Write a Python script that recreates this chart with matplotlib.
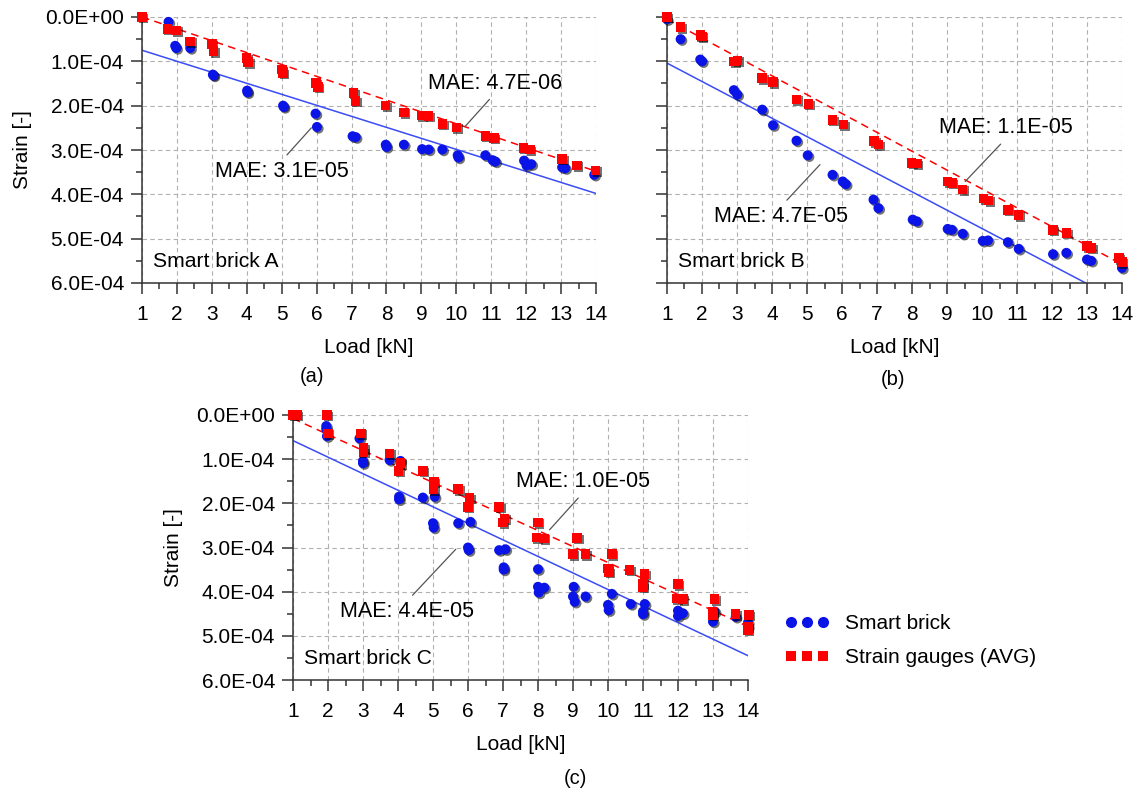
import matplotlib.pyplot as plt
import matplotlib.patheffects as pe
from matplotlib.lines import Line2D
from matplotlib.ticker import MultipleLocator, FuncFormatter

plt.rcParams['font.family'] = ['Liberation Sans', 'DejaVu Sans']

# strain values below are in units of 1e-4
SCALE = 1e-4

# --- Smart brick A ---
a_sb_x = [1.76, 1.95, 1.98, 2.38, 3.03, 3.05, 4.01, 4.02, 5.04, 5.06, 5.97, 6.01, 7.03, 7.12,
          7.98, 8.0, 8.5, 9.02, 9.21, 9.6, 10.04, 10.06, 10.83, 11.04, 11.12, 11.94, 12.01,
          12.15, 13.03, 13.12, 13.95]
a_sb_y = [0.11, 0.65, 0.70, 0.70, 1.30, 1.32, 1.66, 1.70, 2.00, 2.03, 2.18, 2.48, 2.69, 2.71,
          2.88, 2.93, 2.88, 2.98, 2.99, 2.99, 3.12, 3.17, 3.12, 3.23, 3.26, 3.24, 3.35,
          3.32, 3.39, 3.41, 3.56]
a_sg_x = [1.0, 1.73, 1.98, 2.38, 3.0, 3.05, 3.99, 4.04, 5.01, 5.04, 5.98, 6.04, 7.05, 7.11,
          7.98, 8.5, 9.0, 9.21, 9.6, 10.0, 10.83, 11.08, 11.92, 12.11, 13.03, 13.45, 13.99]
a_sg_y = [0.0, 0.27, 0.30, 0.55, 0.61, 0.77, 0.92, 1.02, 1.19, 1.26, 1.49, 1.58, 1.71, 1.89,
          2.0, 2.15, 2.22, 2.23, 2.41, 2.49, 2.68, 2.73, 2.95, 2.99, 3.20, 3.35, 3.46]
a_fit_x = [1, 14]
a_fit_sb = [0.75, 3.98]
a_fit_sg = [0.0, 3.48]

# --- Smart brick B ---
b_sb_x = [1.0, 1.39, 1.95, 2.0, 2.91, 3.01, 3.72, 4.03, 4.70, 5.02, 5.73, 6.02, 6.11, 6.90,
          7.04, 8.02, 8.14, 9.02, 9.14, 9.45, 10.02, 10.17, 10.74, 11.05, 12.03, 12.41,
          13.0, 13.12, 14.0]
b_sb_y = [0.05, 0.50, 0.96, 1.0, 1.65, 1.75, 2.09, 2.44, 2.79, 3.12, 3.56, 3.71, 3.77, 4.12,
          4.31, 4.57, 4.61, 4.78, 4.80, 4.89, 5.05, 5.04, 5.08, 5.23, 5.35, 5.32,
          5.47, 5.50, 5.66]
b_sg_x = [1.0, 1.39, 1.95, 2.0, 2.92, 3.01, 3.72, 4.03, 4.70, 5.04, 5.73, 6.04, 6.92, 7.04,
          7.99, 8.14, 9.02, 9.14, 9.45, 10.05, 10.19, 10.74, 11.05, 12.03, 12.41, 13.0,
          13.12, 13.91, 14.0]
b_sg_y = [0.0, 0.23, 0.41, 0.44, 1.0, 0.98, 1.38, 1.47, 1.86, 1.96, 2.32, 2.43, 2.80, 2.88,
          3.29, 3.31, 3.71, 3.74, 3.89, 4.10, 4.14, 4.35, 4.47, 4.80, 4.87, 5.17,
          5.21, 5.44, 5.53]
b_fit_x = [1, 14]
b_fit_sb = [1.04, 6.43]
b_fit_sg = [0.05, 5.58]

# --- Smart brick C ---
c_sb_x = [1.95, 1.95, 1.97, 2.9, 3.0, 3.0, 3.76, 4.07, 4.03, 4.03, 4.71, 5.05, 5.0, 5.02,
          5.72, 6.07, 6.0, 6.02, 6.89, 7.07, 7.02, 7.02, 8.0, 8.0, 8.02, 8.18, 9.02, 9.0,
          9.05, 9.36, 10.11, 10.0, 10.02, 10.65, 11.05, 11.0, 11.0, 12.0, 12.0, 12.14,
          13.05, 13.0, 13.65, 14.0, 14.0]
c_sb_y = [0.25, 0.32, 0.48, 0.53, 1.04, 1.09, 1.02, 1.04, 1.85, 1.91, 1.87, 1.85, 2.45, 2.55,
          2.45, 2.42, 3.0, 3.06, 3.06, 3.04, 3.45, 3.50, 3.49, 3.89, 4.02, 3.91, 3.89, 4.11,
          4.23, 4.11, 4.05, 4.30, 4.42, 4.28, 4.28, 4.45, 4.51, 4.43, 4.55, 4.49,
          4.45, 4.68, 4.57, 4.70, 4.79]
c_sg_x = [1.0, 1.11, 1.97, 2.0, 2.94, 3.01, 3.01, 3.76, 4.07, 4.02, 4.71, 5.03, 5.01, 5.72,
          6.05, 6.0, 6.89, 7.05, 7.0, 8.0, 7.95, 8.17, 9.12, 9.0, 9.35, 10.11, 10.0, 10.03,
          10.62, 11.05, 11.0, 11.0, 12.0, 11.95, 12.14, 13.05, 12.98, 13.0, 13.65, 14.03,
          14.0, 14.0]
c_sg_y = [0.0, 0.0, 0.0, 0.42, 0.42, 0.75, 0.84, 0.87, 1.09, 1.27, 1.27, 1.51, 1.68, 1.68,
          1.88, 2.08, 2.08, 2.34, 2.43, 2.43, 2.77, 2.79, 2.78, 3.15, 3.15, 3.15, 3.47, 3.55,
          3.51, 3.60, 3.81, 3.89, 3.83, 4.15, 4.17, 4.17, 4.46, 4.53, 4.51, 4.53,
          4.79, 4.87]
c_fit_x = [1, 14]
c_fit_sb = [0.58, 5.45]
c_fit_sg = [0.08, 4.79]

# MAE labels: (text, text_x, text_y, target_x, target_y)
a_mae = [("MAE: 4.7E-06", 11.1, 1.49, 10.25, 2.47), ("MAE: 3.1E-05", 5.0, 3.48, 5.85, 2.50)]
b_mae = [("MAE: 1.1E-05", 10.69, 2.50, 9.52, 3.71), ("MAE: 4.7E-05", 4.27, 4.50, 5.37, 3.33)]
c_mae = [("MAE: 1.0E-05", 9.30, 1.51, 8.33, 2.60), ("MAE: 4.4E-05", 4.26, 4.45, 5.65, 3.04)]

BLUE = '#0a14e6'
RED = '#ff0000'
LINE_BLUE = '#3a4cf5'

W, H = 1137, 792
fig = plt.figure(figsize=(W / 100, H / 100), dpi=100)


def px_axes(left, top, right, bottom):
    return fig.add_axes([left / W, 1 - bottom / H, (right - left) / W, (bottom - top) / H])


def draw_panel(ax, sb_x, sb_y, sg_x, sg_y, fit_x, fit_sb, fit_sg, mae, name, ylabels=True):
    s = lambda v: [i * SCALE for i in v]
    ax.plot(fit_x, s(fit_sb), color=LINE_BLUE, lw=1.1, zorder=2)
    ax.plot(fit_x, s(fit_sg), color=RED, lw=1.1, ls=(0, (5, 3.5)), zorder=2)
    shadow = [pe.SimplePatchShadow(offset=(1.2, -1.2), shadow_rgbFace='black', alpha=0.55), pe.Normal()]
    ax.plot(sb_x, s(sb_y), 'o', color=BLUE, ms=7.2, mew=0, clip_on=False, zorder=3,
            path_effects=shadow)
    ax.plot(sg_x, s(sg_y), 's', color=RED, ms=6.8, mew=0, clip_on=False, zorder=4,
            path_effects=shadow)

    ax.set_xlim(1, 14)
    ax.set_ylim(6 * SCALE, 0)
    ax.xaxis.set_major_locator(MultipleLocator(1))
    ax.xaxis.set_minor_locator(MultipleLocator(0.5))
    ax.yaxis.set_major_locator(MultipleLocator(SCALE))
    ax.yaxis.set_minor_locator(MultipleLocator(0.5 * SCALE))
    ax.yaxis.set_major_formatter(FuncFormatter(lambda v, p: f"{v:.1E}"))
    ax.grid(True, which='major', color='#b0b0b0', lw=0.8, ls=(0, (4, 3)))
    ax.set_axisbelow(True)
    for sp in ['top', 'right']:
        ax.spines[sp].set_visible(False)
    for sp in ['left', 'bottom']:
        ax.spines[sp].set_color('#333333')
        ax.spines[sp].set_linewidth(1.1)
    ax.tick_params(which='major', direction='out', length=8, width=1.1, color='#333333',
                   labelsize=15)
    ax.tick_params(axis='x', which='major', pad=7.5)
    ax.tick_params(axis='y', which='major', pad=5)
    ax.tick_params(which='minor', direction='out', length=4, width=1.1, color='#333333')
    if not ylabels:
        ax.tick_params(axis='y', labelleft=False)
    else:
        ax.set_ylabel("Strain [-]", fontsize=15)
        ax.yaxis.set_label_coords(-0.242, 0.5)
    ax.set_xlabel("Load [kN]", fontsize=15)
    ax.xaxis.set_label_coords(0.5, -0.208)

    for txt, tx, ty, px, py in mae:
        rel = (0.5, 0) if ty < py else (0.5, 1)
        ax.annotate(txt, xy=(px, py * SCALE), xytext=(tx, ty * SCALE), ha='center', va='center',
                    fontsize=15.5,
                    arrowprops=dict(arrowstyle='-', color='#555555', lw=0.9, relpos=rel,
                                    shrinkA=3, shrinkB=0))
    ax.text(1.32, 5.51 * SCALE, name, ha='left', va='center', fontsize=15.2)


ax_a = px_axes(142, 17, 596, 283)
draw_panel(ax_a, a_sb_x, a_sb_y, a_sg_x, a_sg_y, a_fit_x, a_fit_sb, a_fit_sg, a_mae, "Smart brick A")
ax_b = px_axes(667, 17, 1122, 283)
draw_panel(ax_b, b_sb_x, b_sb_y, b_sg_x, b_sg_y, b_fit_x, b_fit_sb, b_fit_sg, b_mae, "Smart brick B",
           ylabels=False)
ax_c = px_axes(293, 415, 748, 680)
draw_panel(ax_c, c_sb_x, c_sb_y, c_sg_x, c_sg_y, c_fit_x, c_fit_sb, c_fit_sg, c_mae, "Smart brick C")

fig.text(312 / W, 1 - 377 / H, "(a)", ha='center', va='center', fontsize=14.5)
fig.text(893 / W, 1 - 379 / H, "(b)", ha='center', va='center', fontsize=14.5)
fig.text(575 / W, 1 - 778 / H, "(c)", ha='center', va='center', fontsize=14.5)

handles = [Line2D([], [], ls='none', marker='o', color=BLUE, ms=8, mew=0),
           Line2D([], [], ls='none', marker='s', color=RED, ms=7.5, mew=0)]
fig.legend(handles, ["Smart brick", "Strain gauges (AVG)"], loc='upper left',
           bbox_to_anchor=(785 / W, 1 - 614 / H), frameon=False, fontsize=15, numpoints=3,
           handlelength=2.14, handletextpad=0.75, labelspacing=0.72, borderpad=0, borderaxespad=0)

fig.savefig("out.png", dpi=100)
